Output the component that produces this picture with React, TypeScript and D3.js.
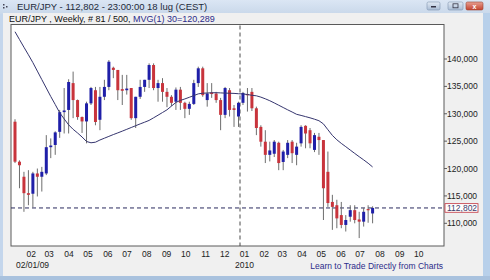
import { scaleLinear, scaleTime, timeDay, timeMonth, timeFormat, line } from "d3";

// weekly EUR/JPY candles
const opens = [
  128.55, 121.25, 118.5, 115.5, 115.4, 119.1, 118.5, 119.1, 123.9, 124.3,
  126.7, 130.3, 130.7, 135.6, 132.5, 129.4, 128.6, 131.9, 134.3, 128.9,
  133.1, 134.9, 138.4, 138.0, 134.5, 134.3, 134.7, 129.2, 133.1, 134.9,
  136.2, 138.9, 134.7, 135.6, 134.0, 133.1, 132.2, 134.4, 132.0, 130.9,
  131.8, 135.6, 138.3, 132.5, 133.9, 133.7, 132.5, 129.8, 134.3, 131.0,
  129.5, 132.0, 133.6, 134.0, 131.0, 127.6, 124.9, 122.5, 122.7, 124.7,
  121.2, 122.5, 124.9, 122.5, 124.6, 127.8, 127.0, 123.4, 125.8, 125.2,
  119.4, 113.9, 113.3, 111.5, 109.7, 111.2, 112.4, 110.7, 110.3, 112.6,
  111.8,
];
const highs = [
  129.0, 121.5, 119.4, 119.7, 119.4, 120.0, 120.3, 126.1, 125.5, 126.8,
  130.7, 134.7, 136.3, 137.7, 132.6, 129.5, 132.2, 134.9, 134.9, 134.9,
  136.2, 139.8, 138.6, 138.0, 137.1, 137.1, 134.7, 133.1, 136.2, 136.2,
  139.2, 139.2, 136.2, 136.5, 134.7, 133.4, 134.8, 134.9, 132.2, 132.2,
  136.2, 138.6, 138.6, 135.6, 135.6, 134.0, 132.9, 134.9, 134.7, 131.6,
  132.2, 134.0, 134.7, 134.7, 131.3, 127.9, 127.0, 124.9, 125.2, 124.9,
  123.4, 125.2, 125.2, 124.7, 127.9, 127.9, 127.4, 126.5, 126.5, 125.2,
  123.1, 115.2, 114.3, 113.9, 111.5, 113.3, 113.3, 112.1, 112.8, 113.3,
  113.1,
];
const lows = [
  121.0, 116.4, 112.1, 113.3, 112.9, 114.9, 115.8, 118.8, 121.9, 122.5,
  125.6, 126.4, 126.4, 129.2, 128.9, 126.5, 124.6, 131.6, 127.9, 127.0,
  132.5, 134.3, 136.5, 132.5, 131.6, 133.5, 128.9, 127.4, 132.7, 134.0,
  134.7, 134.3, 132.2, 132.2, 131.2, 131.4, 130.7, 130.7, 129.2, 129.8,
  131.6, 134.9, 133.1, 131.3, 132.9, 132.0, 127.0, 129.2, 129.5, 127.6,
  127.6, 131.6, 130.4, 130.5, 126.1, 124.0, 121.0, 121.3, 122.1, 119.7,
  119.7, 121.9, 121.0, 120.6, 124.0, 123.7, 123.7, 123.0, 122.5, 110.6,
  113.0, 108.8, 109.1, 109.1, 108.5, 110.3, 110.0, 107.3, 109.4, 110.1,
  110.0,
];
const closes = [
  121.25, 120.6, 115.5, 115.2, 119.1, 118.5, 119.4, 123.9, 124.2, 126.6,
  130.3, 130.6, 135.8, 132.5, 129.4, 128.6, 131.9, 134.7, 128.5, 133.1,
  134.9, 139.5, 138.0, 134.3, 134.2, 134.6, 129.2, 133.1, 134.9, 136.2,
  138.9, 134.7, 135.6, 134.0, 133.1, 132.0, 134.4, 132.0, 130.9, 131.8,
  135.6, 138.3, 133.4, 133.7, 133.6, 132.5, 129.8, 134.7, 130.7, 130.7,
  132.0, 133.8, 133.4, 131.0, 127.4, 124.9, 122.5, 123.3, 124.9, 121.0,
  123.1, 124.7, 122.8, 124.0, 127.6, 126.4, 124.6, 126.1, 125.2, 116.4,
  113.7, 113.0, 110.9, 109.7, 110.6, 112.4, 110.6, 110.3, 112.1, 112.5,
  112.802,
];
// MVG 30 as drawn on the chart
const mvg = [
  144.98, 143.56, 142.15, 140.77, 139.34, 137.79, 136.24, 134.7, 133.15, 131.69,
  130.18, 129.06, 127.98, 127.16, 126.49, 125.76, 124.94, 124.7, 124.81, 125.21,
  125.54, 125.87, 126.2, 126.51, 126.83, 127.16, 127.49, 127.82, 128.15, 128.46,
  128.79, 129.26, 129.74, 130.23, 130.72, 131.4, 132.07, 132.44, 132.71, 133.01,
  133.32, 133.63, 133.75, 133.79, 133.83, 133.85, 133.81, 133.77, 133.75, 133.72,
  133.66, 133.61, 133.52, 133.37, 133.28, 133.04, 132.73, 132.38, 131.98, 131.56,
  131.14, 130.72, 130.32, 129.9, 129.7, 129.48, 129.26, 129.01, 128.73, 128.15,
  127.09, 126.05, 125.25, 124.59, 123.99, 123.37, 122.76, 122.16, 121.58, 120.97,
  120.29,
];
const priceTicks = [110, 115, 120, 125, 130, 135, 140];
const lastPrice = 112.802;
const cursorIndex = 50;

const firstWeek = new Date(2009, 0, 5);
const lastWeek = new Date(2010, 6, 19);
const dates = closes.map((_, i) => timeDay.offset(firstWeek, i * 7));
const months = timeMonth.range(new Date(2009, 1, 1), new Date(2010, 9, 2));

const fmtPrice = (v: number) => v.toFixed(3).replace(".", ",");
const font = "'Liberation Sans', Arial, sans-serif";

export default function App() {
  const x = scaleTime().domain([firstWeek, lastWeek]).range([15, 372.6]);
  const y = scaleLinear().domain([110, 140]).range([223.3, 59]);
  const plot = { left: 11, top: 24.5, right: 444, bottom: 246 };

  const maPath = line<number>()
    .x((_, i) => x(dates[i]))
    .y((d) => y(d))(mvg);

  const fmtMonth = timeFormat("%m");
  const yearStart = new Date(2010, 0, 1);

  return (
    <svg
      width={490}
      height={280}
      style={{ position: "absolute", left: 0, top: 0, fontFamily: font }}
    >
      <defs>
        <linearGradient id="title" x1="0" y1="0" x2="0" y2="1">
          <stop offset="0" stopColor="#dbe6f4" />
          <stop offset="1" stopColor="#c9d8ea" />
        </linearGradient>
        <linearGradient id="btn" x1="0" y1="0" x2="0" y2="1">
          <stop offset="0" stopColor="#e3ebf5" />
          <stop offset="1" stopColor="#a9bcd4" />
        </linearGradient>
        <linearGradient id="close" x1="0" y1="0" x2="0" y2="1">
          <stop offset="0" stopColor="#e8a092" />
          <stop offset="1" stopColor="#c4432f" />
        </linearGradient>
      </defs>

      {/* window frame */}
      <rect x={0} y={0} width={490} height={280} fill="#c4d6ec" />
      <rect x={0} y={0} width={490} height={14} fill="url(#title)" />
      <rect x={3} y={13} width={480} height={263} fill="#f0f0f0" />
      <rect x={483} y={13} width={7} height={267} fill="#b8d0ea" />
      <rect x={0} y={276} width={490} height={4} fill="#a9c2de" />

      {/* title bar */}
      <rect x={3} y={4} width={1.5} height={1.5} fill="#445" />
      <rect x={6} y={6} width={1.5} height={1.5} fill="#445" />
      <rect x={3} y={7} width={1.5} height={1.5} fill="#445" />
      <text x={17} y={10} fontSize={9.5} fill="#1e2a3a">
        EUR/JPY - 112,802 - 23:00:00  18 lug (CEST)
      </text>
      <rect x={427} y={2} width={13} height={8} rx={1.5} fill="url(#btn)" stroke="#8296b0" strokeWidth={0.6} />
      <rect x={431} y={6} width={5} height={1.5} fill="#334" />
      <rect x={448} y={2} width={15} height={8} rx={1.5} fill="url(#btn)" stroke="#8296b0" strokeWidth={0.6} />
      <rect x={453} y={3.8} width={5} height={4} fill="none" stroke="#334" strokeWidth={0.8} />
      <rect x={466} y={2} width={17} height={8} rx={1.5} fill="url(#close)" stroke="#9a4434" strokeWidth={0.6} />
      <text x={474.5} y={8.8} fontSize={7} fontWeight="bold" fill="#fff" textAnchor="middle">x</text>

      {/* chart header */}
      <text x={9} y={22} fontSize={9} fill="#111">
        EUR/JPY , Weekly, # 81 / 500,{" "}
        <tspan fill="#2c2c8a">MVG(1) 30=120,289</tspan>
      </text>

      {/* plot area */}
      <rect
        x={plot.left}
        y={plot.top}
        width={plot.right - plot.left}
        height={plot.bottom - plot.top}
        fill="#fff"
        stroke="#5a5a5a"
        strokeWidth={1}
      />

      {/* year cursor */}
      <line
        x1={x(dates[cursorIndex]) + 1.5}
        x2={x(dates[cursorIndex]) + 1.5}
        y1={plot.top + 1}
        y2={plot.bottom}
        stroke="#4a4a4a"
        strokeDasharray="4,3"
      />
      {/* last price line */}
      <line
        x1={plot.left}
        x2={plot.right}
        y1={y(lastPrice)}
        y2={y(lastPrice)}
        stroke="#2a2a5e"
        strokeDasharray="4,3"
      />

      {/* candles */}
      {closes.map((c, i) => {
        const o = opens[i];
        const cx = x(dates[i]);
        const up = c >= o;
        const top = y(Math.max(o, c));
        const h = Math.max(1.2, y(Math.min(o, c)) - top);
        return (
          <g key={i}>
            <line
              x1={cx}
              x2={cx}
              y1={y(highs[i])}
              y2={y(lows[i])}
              stroke="#6e6e6e"
              strokeWidth={1}
            />
            <rect
              x={cx - 1.5}
              y={top}
              width={3}
              height={h}
              fill={up ? "#1f1fa8" : "#c8343c"}
            />
          </g>
        );
      })}

      {/* moving average */}
      <path d={maPath ?? ""} fill="none" stroke="#35356e" strokeWidth={1} />

      {/* y axis */}
      {priceTicks.map((p) => (
        <g key={p}>
          <line x1={plot.right} x2={plot.right + 3} y1={y(p)} y2={y(p)} stroke="#5a5a5a" />
          <text x={plot.right + 3} y={y(p) + 3} fontSize={8.5} fill="#222">
            {fmtPrice(p)}
          </text>
        </g>
      ))}
      <rect
        x={plot.right + 1}
        y={y(lastPrice) - 4.3}
        width={33}
        height={8.6}
        fill="#fff"
        stroke="#c0303c"
        strokeWidth={0.8}
      />
      <text x={plot.right + 3} y={y(lastPrice) + 3} fontSize={8.5} fill="#3a3a6a">
        {fmtPrice(lastPrice)}
      </text>

      {/* x axis */}
      {months.map((m) => (
        <text
          key={m.getTime()}
          x={x(m) - 1}
          y={257}
          fontSize={8.5}
          fill="#222"
          textAnchor="middle"
        >
          {fmtMonth(m)}
        </text>
      ))}
      <text x={16} y={268} fontSize={8.5} fill="#222">
        02/01/09
      </text>
      <text x={x(yearStart) - 1} y={268} fontSize={8.5} fill="#222" textAnchor="middle">
        2010
      </text>
      <text x={443} y={268.5} fontSize={8.5} fill="#2c2c8a" textAnchor="end">
        Learn to Trade Directly from Charts
      </text>
    </svg>
  );
}
